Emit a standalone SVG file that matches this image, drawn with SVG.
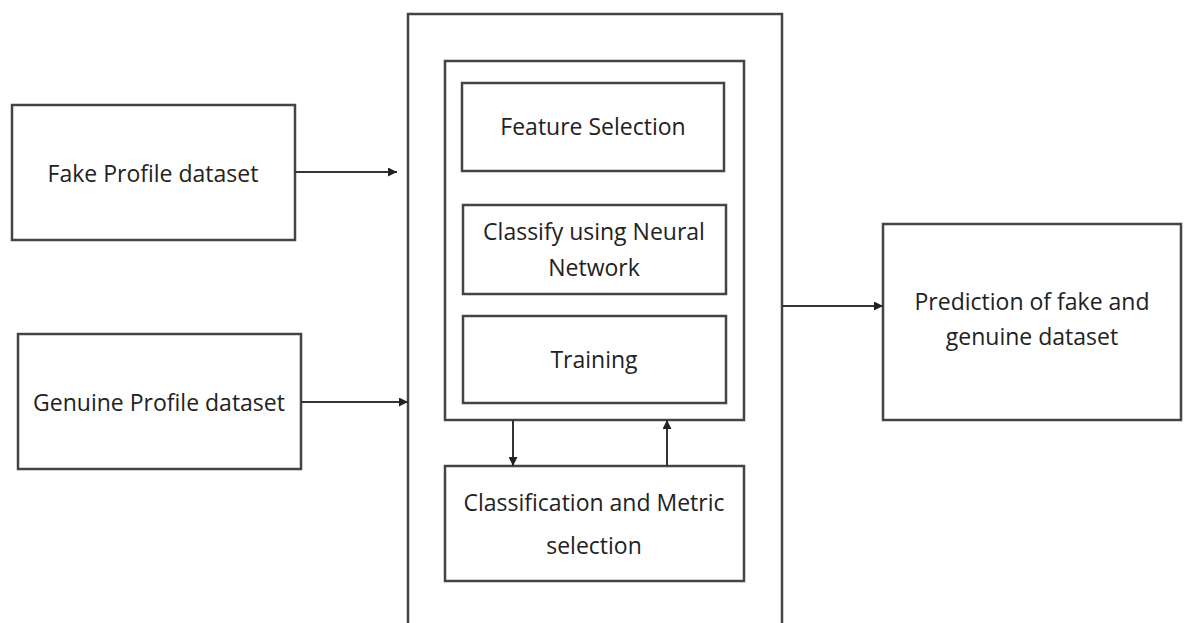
<svg xmlns="http://www.w3.org/2000/svg" width="1186" height="623" viewBox="0 0 1186 623">
<style>
.box{fill:#fff;stroke:#444;stroke-width:2.5}
.t{font-family:"Open Sans","Liberation Sans",sans-serif;font-size:23px;fill:#222;text-anchor:middle}
.c{stroke:#333;stroke-width:2;fill:none}
</style>
<defs>
<marker id="ah" viewBox="0 0 10 10" refX="10" refY="5" markerWidth="4.5" markerHeight="4.5" orient="auto-start-reverse">
<path d="M0,0 L10,5 L0,10 z" fill="#222"/>
</marker>
</defs>
<rect width="1186" height="623" fill="#fff"/>
<g id="outer"><rect class="box" x="408" y="14" width="374" height="640"/></g>
<g id="inner"><rect class="box" x="445" y="61" width="299" height="359"/></g>
<g id="fake"><rect class="box" x="12" y="105" width="283" height="135"/><text class="t" x="153" y="182">Fake Profile dataset</text></g>
<g id="genuine"><rect class="box" x="18" y="334" width="283" height="135"/><text class="t" x="159" y="411">Genuine Profile dataset</text></g>
<g id="prediction"><rect class="box" x="883" y="224" width="298" height="196"/><text class="t" x="1032" y="310">Prediction of fake and</text><text class="t" x="1032" y="345">genuine dataset</text></g>
<g id="feature"><rect class="box" x="462" y="83" width="262" height="88"/><text class="t" x="593" y="135">Feature Selection</text></g>
<g id="classify"><rect class="box" x="463" y="205" width="263" height="89"/><text class="t" x="594" y="240">Classify using Neural</text><text class="t" x="594" y="276">Network</text></g>
<g id="training"><rect class="box" x="463" y="316" width="263" height="87"/><text class="t" x="594" y="368">Training</text></g>
<g id="classification"><rect class="box" x="445" y="466" width="299" height="115"/><text class="t" x="594" y="511">Classification and Metric</text><text class="t" x="594" y="554">selection</text></g>
<g id="connectors">
<line class="c" x1="295" y1="172" x2="397" y2="172" marker-end="url(#ah)"/>
<line class="c" x1="301" y1="402" x2="408" y2="402" marker-end="url(#ah)"/>
<line class="c" x1="782" y1="306" x2="883" y2="306" marker-end="url(#ah)"/>
<line class="c" x1="513" y1="420" x2="513" y2="466" marker-end="url(#ah)"/>
<line class="c" x1="667" y1="466" x2="667" y2="420" marker-end="url(#ah)"/>
</g>
</svg>
